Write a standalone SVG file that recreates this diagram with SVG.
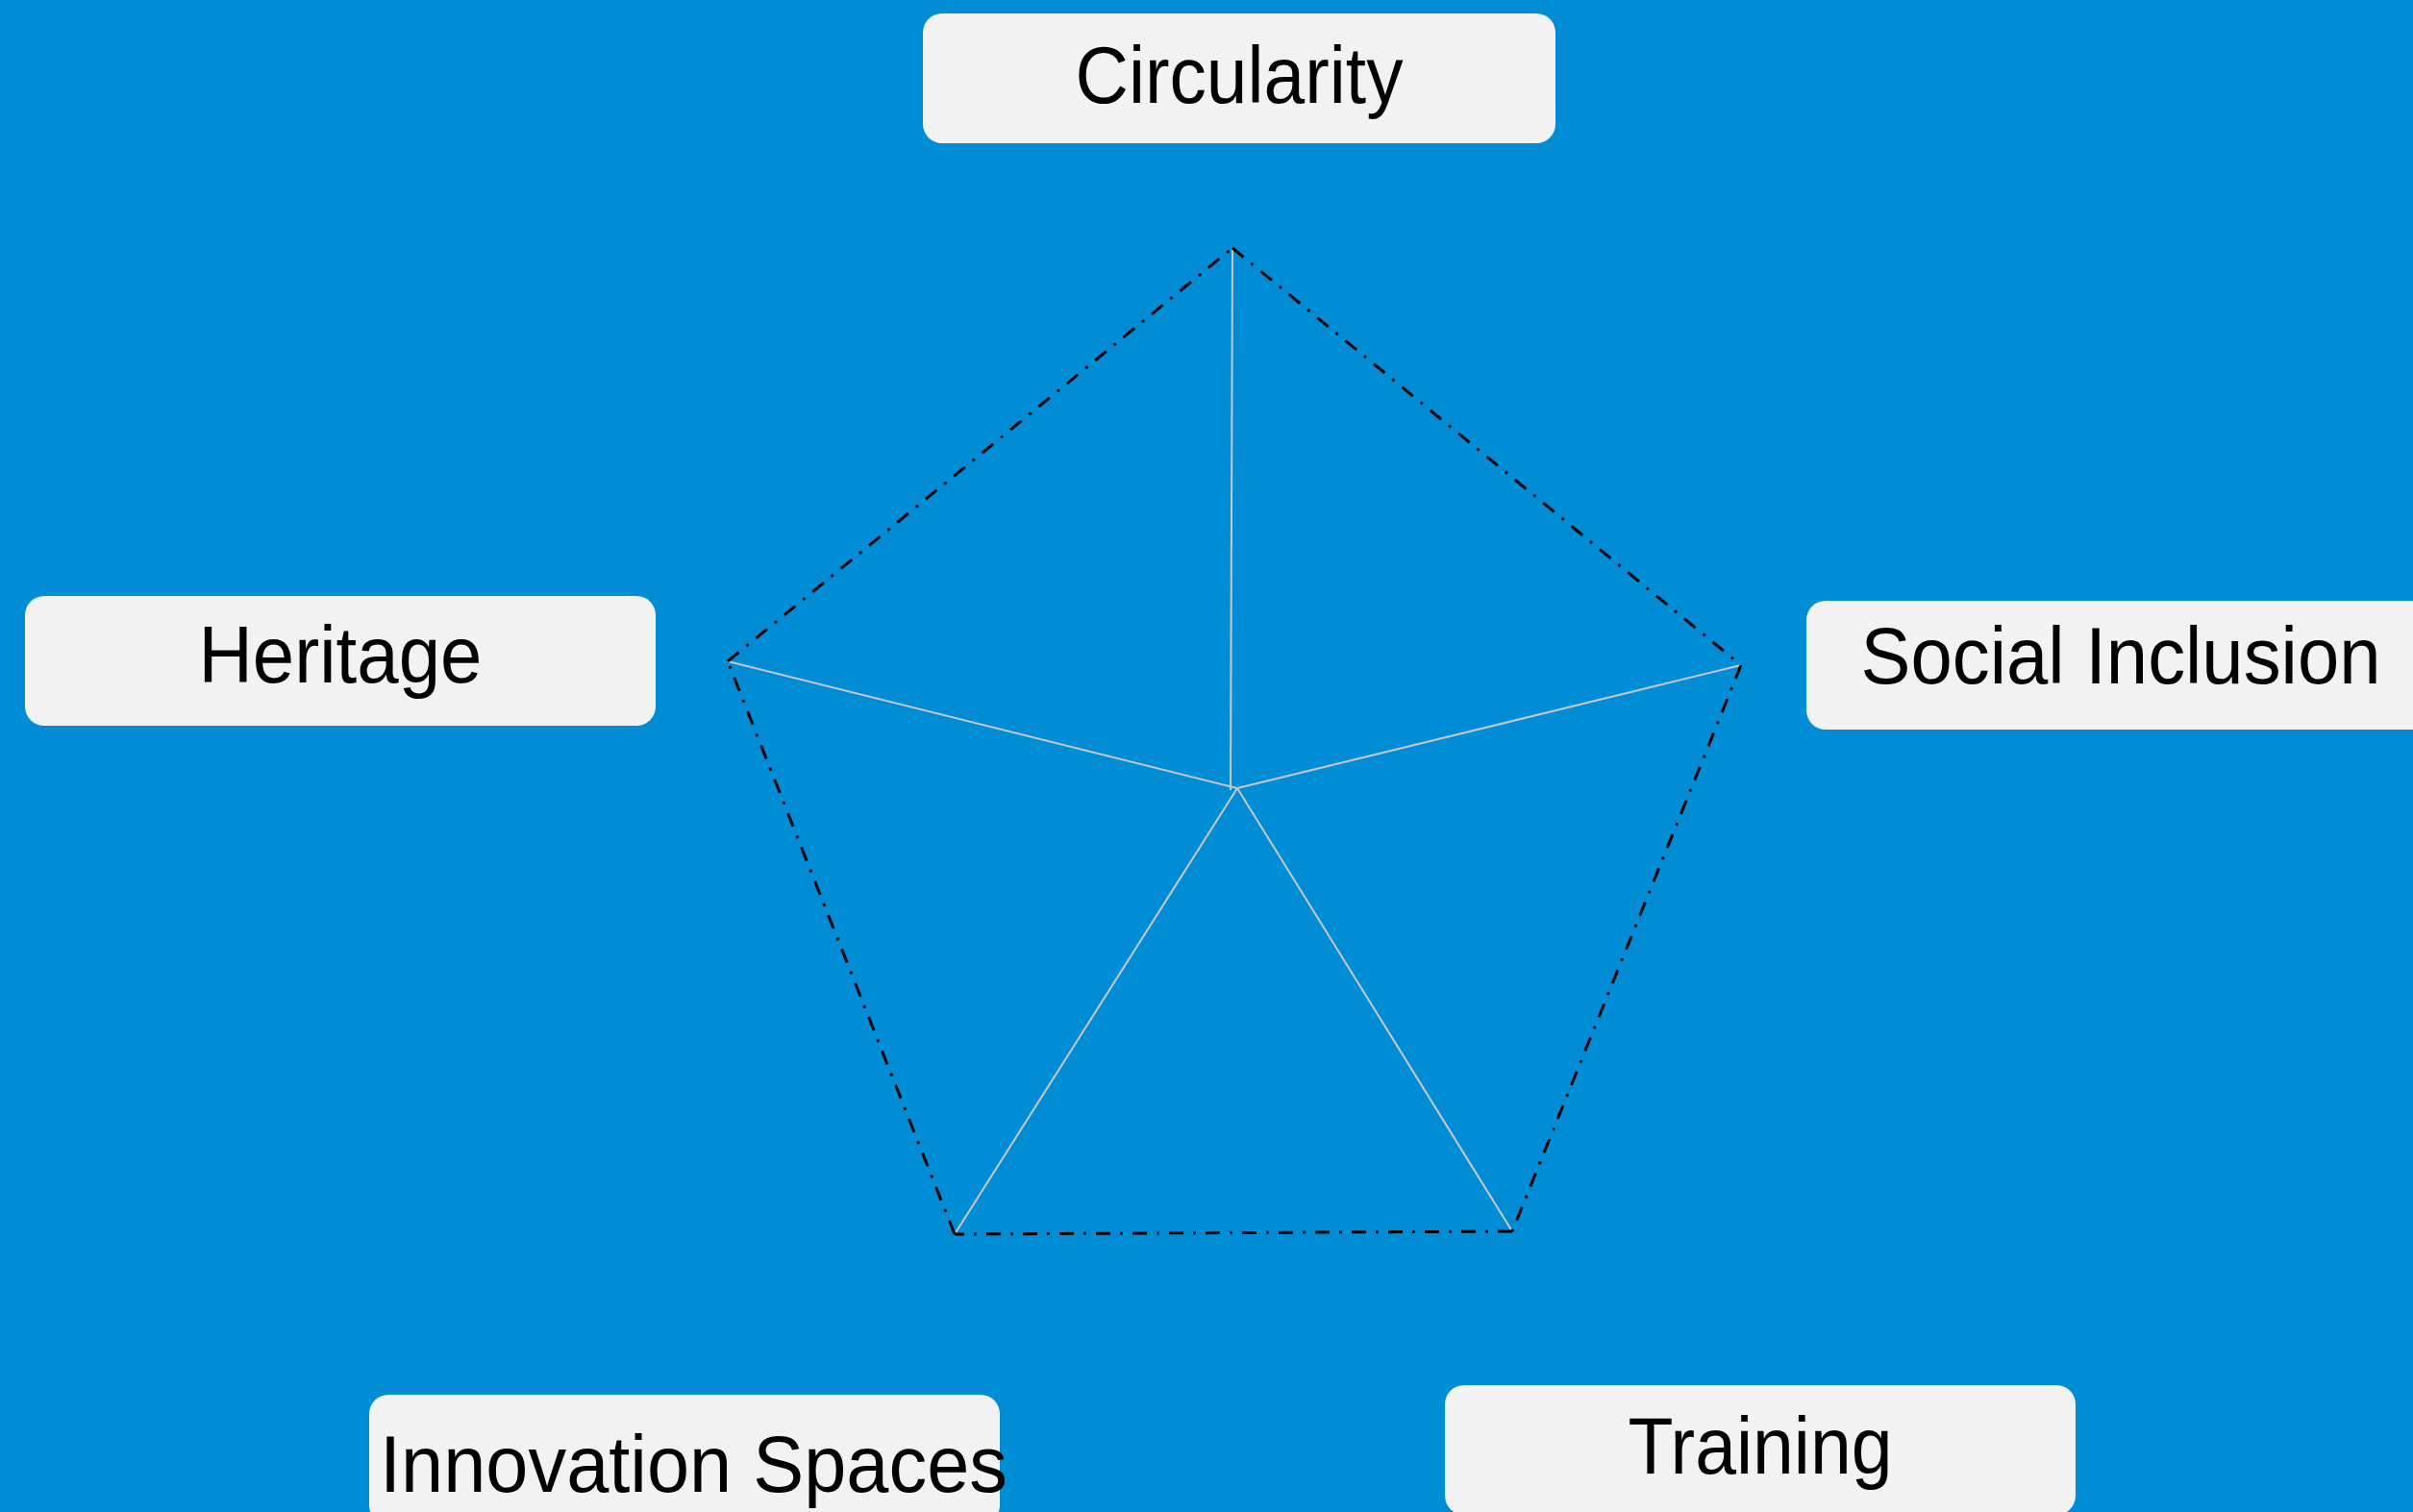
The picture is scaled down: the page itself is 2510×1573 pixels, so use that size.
<svg xmlns="http://www.w3.org/2000/svg" width="2510" height="1573" viewBox="0 0 2510 1573">
<style>
.box{fill:#f2f2f2;stroke:none}
.lbl{font-family:"Liberation Sans",Arial,sans-serif;font-size:84px;fill:#000}
.spoke{stroke:#c8c8c8;stroke-width:2;fill:none}
.edge{stroke:#000;stroke-width:3;fill:none;stroke-dasharray:15 10 3 10}
</style>
<rect x="0" y="0" width="2510" height="1573" fill="#008dd5"/>
<g id="connectors">
<line class="spoke" x1="1282" y1="260" x2="1280" y2="822"/>
<line class="spoke" x1="1287" y1="820" x2="757" y2="688"/>
<line class="spoke" x1="1287" y1="820" x2="1811" y2="692"/>
<line class="spoke" x1="1287" y1="820" x2="993" y2="1284"/>
<line class="spoke" x1="1287" y1="820" x2="1573" y2="1281"/>
<path class="edge" d="M1282,258 L1811,692"/>
<path class="edge" d="M1811,692 L1573,1281"/>
<path class="edge" d="M1573,1281 L993,1284"/>
<path class="edge" d="M993,1284 L757,688"/>
<path class="edge" d="M757,688 L1282,258"/>
</g>
<g id="circularity">
<rect class="box" x="960" y="14" width="658" height="135" rx="20"/>
<text class="lbl" x="1289" y="107" text-anchor="middle" textLength="341" lengthAdjust="spacingAndGlyphs">Circularity</text>
</g>
<g id="heritage">
<rect class="box" x="26" y="620" width="656" height="135" rx="20"/>
<text class="lbl" x="354" y="710" text-anchor="middle" textLength="295" lengthAdjust="spacingAndGlyphs">Heritage</text>
</g>
<g id="social-inclusion">
<rect class="box" x="1879" y="625" width="656" height="134" rx="20"/>
<text class="lbl" x="2206" y="711" text-anchor="middle" textLength="541" lengthAdjust="spacingAndGlyphs">Social Inclusion</text>
</g>
<g id="innovation-spaces">
<rect class="box" x="384" y="1451" width="656" height="135" rx="20"/>
<text class="lbl" x="395" y="1552" textLength="653" lengthAdjust="spacingAndGlyphs">Innovation Spaces</text>
</g>
<g id="training">
<rect class="box" x="1503" y="1441" width="656" height="135" rx="20"/>
<text class="lbl" x="1831" y="1533" text-anchor="middle" textLength="275" lengthAdjust="spacingAndGlyphs">Training</text>
</g>
</svg>
